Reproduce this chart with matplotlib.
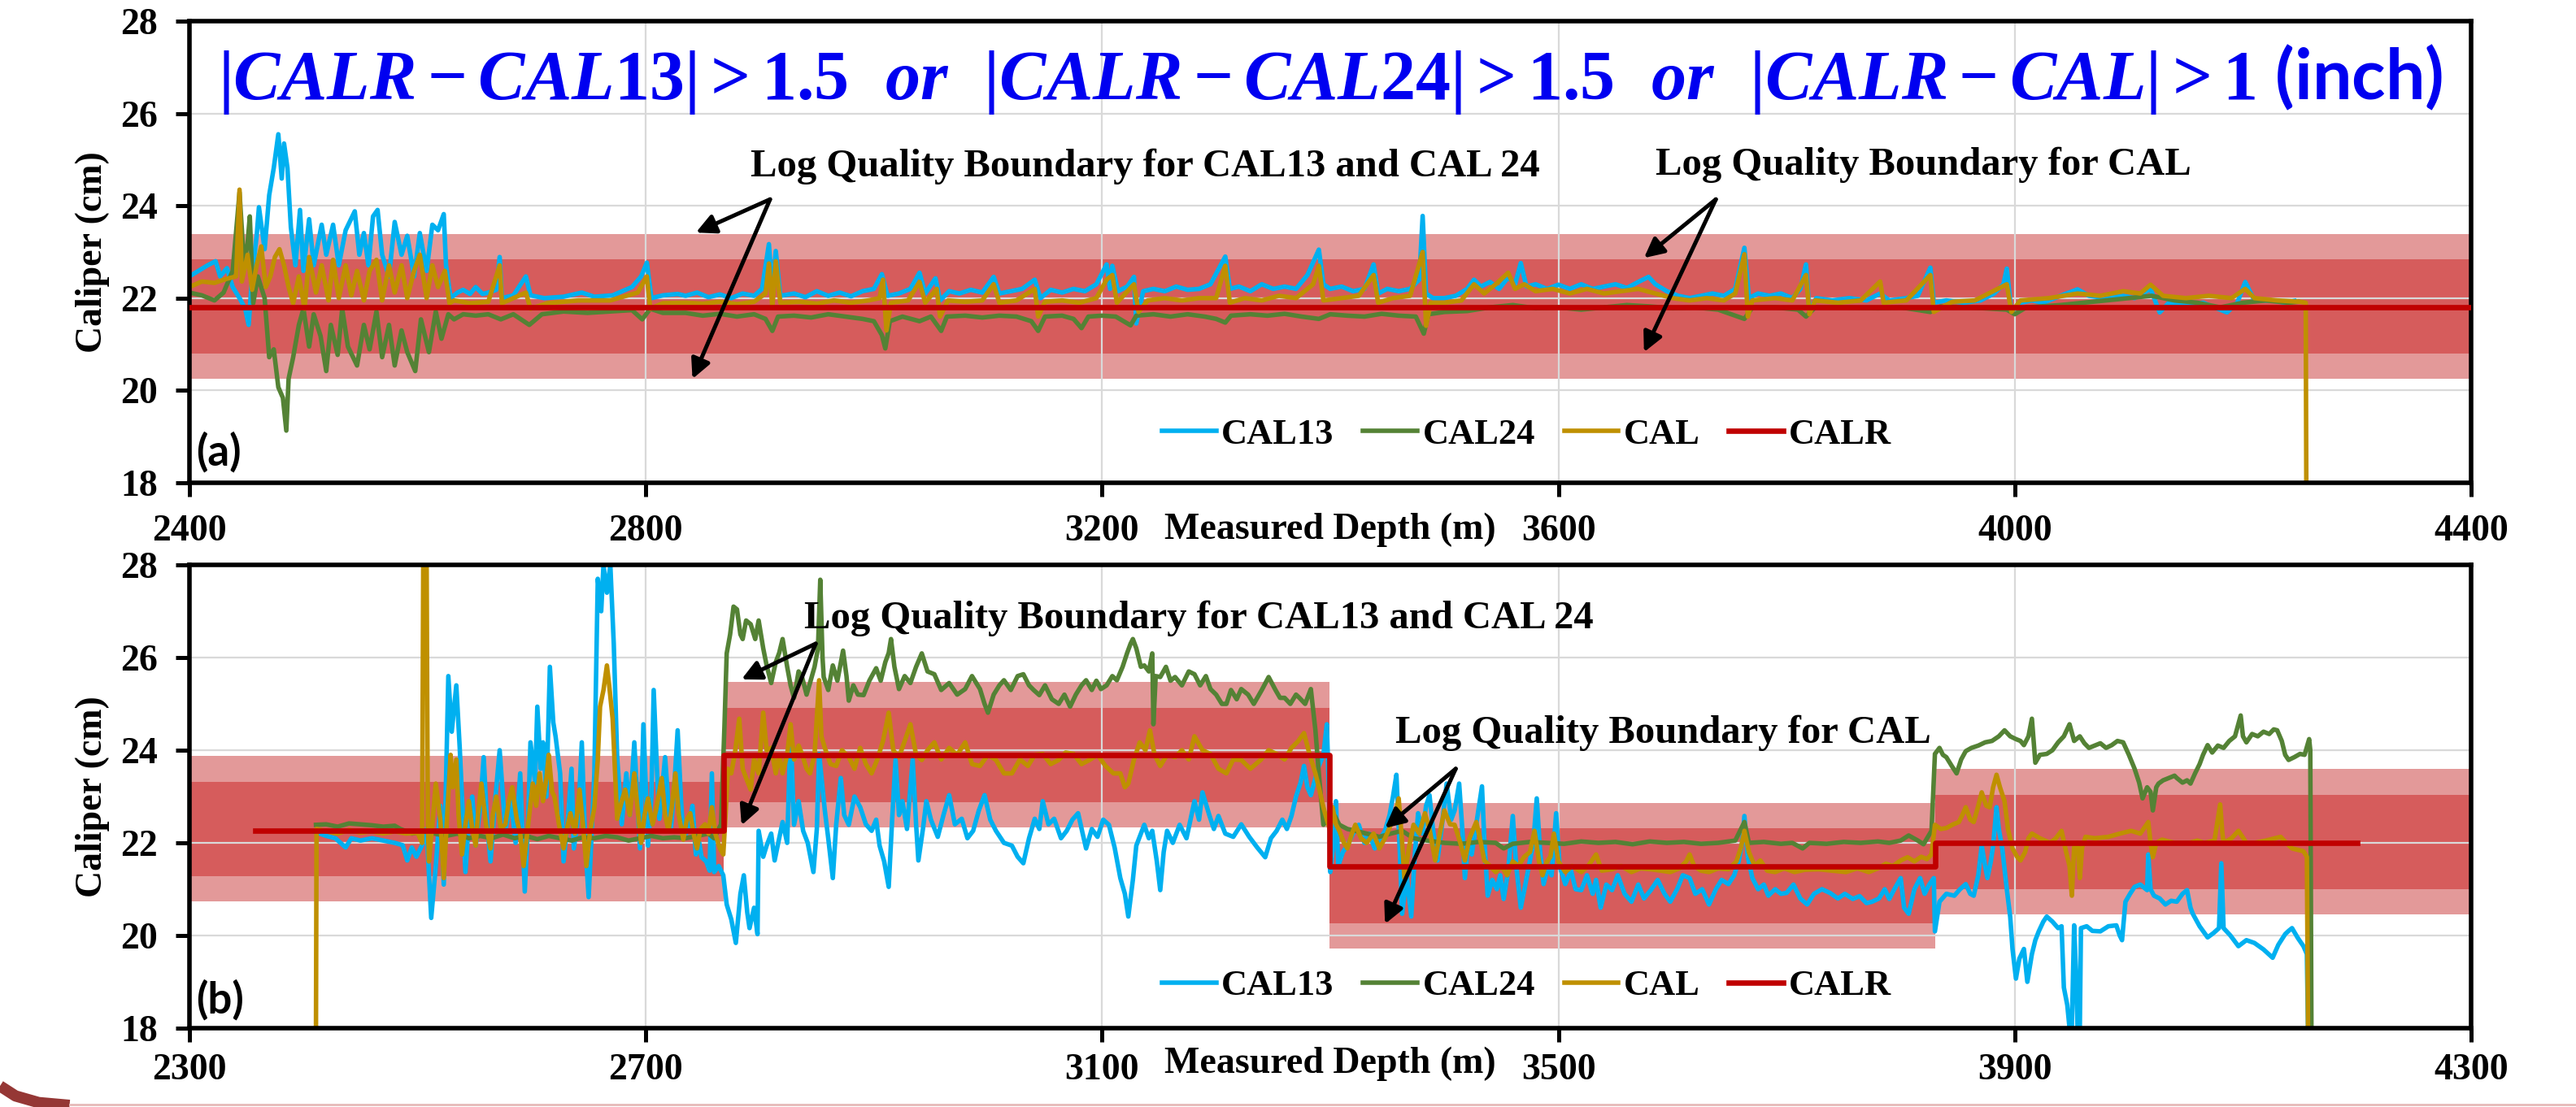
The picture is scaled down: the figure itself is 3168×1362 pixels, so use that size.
import matplotlib.pyplot as plt
import matplotlib.lines as mlines
import numpy as np

plt.rcParams['font.family'] = 'Liberation Serif'
plt.rcParams['font.weight'] = 'bold'
plt.rcParams['mathtext.fontset'] = 'custom'
plt.rcParams['mathtext.it'] = 'Liberation Serif:italic:bold'
plt.rcParams['mathtext.rm'] = 'Liberation Serif:bold'
plt.rcParams['mathtext.bf'] = 'Liberation Serif:bold'

# ---------------- panel (a) data: (depth m, caliper cm) ----------------
a_cal13 = [(2400, 22.47), (2408, 22.59), (2416, 22.71), (2423, 22.8), (2427, 22.47), (2433, 22.65), (2438, 22.24),
           (2444, 22.0), (2449, 21.77), (2452, 21.42), (2455, 22.47), (2459, 23.35), (2461, 23.97), (2466, 23.06),
           (2470, 24.23), (2474, 24.82), (2478, 25.55), (2481, 24.59), (2483, 25.35), (2486, 24.82), (2489, 23.53),
           (2493, 22.71), (2497, 23.91), (2500, 22.59), (2505, 23.71), (2509, 22.71), (2516, 23.59), (2520, 22.94),
           (2526, 23.59), (2531, 22.71), (2537, 23.47), (2545, 23.88), (2549, 22.94), (2553, 23.41), (2557, 22.71),
           (2561, 23.77), (2565, 23.91), (2569, 22.94), (2575, 22.47), (2580, 23.65), (2586, 22.94), (2591, 23.35),
           (2597, 22.47), (2602, 23.41), (2608, 22.59), (2613, 23.59), (2618, 23.47), (2623, 23.82), (2625, 22.71),
           (2629, 22.0), (2635, 22.12), (2640, 22.18), (2646, 22.09), (2651, 22.24), (2657, 22.09), (2662, 22.12),
           (2669, 22.18), (2672, 22.89), (2674, 22.0), (2684, 22.06), (2695, 22.47), (2699, 22.06), (2711, 22.0),
           (2728, 22.03), (2744, 22.12), (2755, 22.03), (2771, 22.06), (2788, 22.24), (2796, 22.47), (2801, 22.77),
           (2805, 22.0), (2815, 22.06), (2828, 22.09), (2835, 22.05), (2845, 22.12), (2855, 22.02), (2865, 22.08),
           (2875, 22.0), (2885, 22.1), (2895, 22.05), (2902, 22.2), (2908, 23.17), (2911, 22.1), (2914, 23.02),
           (2918, 22.05), (2930, 22.1), (2940, 22.02), (2950, 22.15), (2960, 22.05), (2970, 22.12), (2980, 22.04),
           (2990, 22.15), (3000, 22.2), (3007, 22.52), (3012, 22.05), (3022, 22.1), (3032, 22.2), (3040, 22.55),
           (3045, 22.1), (3054, 22.43), (3058, 21.95), (3066, 22.15), (3075, 22.1), (3085, 22.18), (3095, 22.12),
           (3105, 22.46), (3110, 22.1), (3120, 22.15), (3130, 22.2), (3141, 22.4), (3146, 22.0), (3155, 22.18),
           (3165, 22.12), (3175, 22.2), (3185, 22.15), (3195, 22.3), (3204, 22.73), (3207, 22.2), (3209, 22.7),
           (3214, 22.15), (3222, 22.25), (3228, 22.46), (3230, 21.45), (3236, 22.15), (3245, 22.2), (3255, 22.15),
           (3265, 22.25), (3275, 22.18), (3285, 22.2), (3295, 22.3), (3308, 22.9), (3312, 22.2), (3320, 22.25),
           (3330, 22.15), (3340, 22.3), (3350, 22.2), (3360, 22.25), (3370, 22.2), (3380, 22.5), (3390, 23.05),
           (3394, 22.3), (3400, 22.2), (3410, 22.25), (3420, 22.15), (3430, 22.2), (3438, 22.73), (3442, 22.1),
           (3450, 22.2), (3460, 22.15), (3470, 22.2), (3478, 22.4), (3481, 23.78), (3484, 22.1), (3490, 22.0),
           (3500, 22.0), (3510, 22.05), (3520, 22.2), (3526, 22.4), (3532, 22.25), (3540, 22.35), (3548, 22.2),
           (3556, 22.45), (3562, 22.3), (3567, 22.76), (3572, 22.25), (3580, 22.3), (3590, 22.2), (3600, 22.29),
           (3610, 22.2), (3620, 22.3), (3630, 22.2), (3640, 22.25), (3650, 22.3), (3660, 22.22), (3670, 22.35),
           (3679, 22.46), (3685, 22.3), (3695, 22.15), (3705, 22.05), (3715, 22.0), (3725, 22.05), (3735, 22.1),
           (3745, 22.05), (3755, 22.2), (3763, 23.09), (3767, 22.0), (3775, 22.1), (3785, 22.05), (3795, 22.1),
           (3805, 22.0), (3812, 22.2), (3817, 22.73), (3820, 21.7), (3826, 22.0), (3840, 21.95), (3855, 22.0),
           (3870, 21.95), (3882, 22.1), (3890, 21.95), (3905, 22.0), (3915, 22.05), (3926, 22.66), (3929, 21.9),
           (3940, 21.95), (3955, 21.9), (3970, 21.95), (3982, 22.1), (3990, 22.3), (3993, 22.64), (3997, 21.7),
           (4005, 21.9), (4015, 21.95), (4025, 21.9), (4040, 22.05), (4055, 22.19), (4065, 22.05), (4080, 22.0),
           (4095, 22.05), (4105, 22.0), (4119, 22.2), (4127, 21.69), (4135, 21.9), (4150, 21.85), (4165, 21.9),
           (4175, 21.8), (4186, 21.69), (4195, 21.9), (4202, 22.35), (4210, 21.95), (4225, 21.95), (4237, 21.9),
           (4245, 21.94)]

a_cal24 = [(2400, 22.12), (2411, 22.06), (2422, 21.95), (2430, 22.12), (2438, 22.59), (2444, 24.29), (2448, 22.71),
           (2451, 23.18), (2453, 23.77), (2456, 21.89), (2460, 22.47), (2466, 22.0), (2470, 20.72), (2474, 20.89),
           (2478, 20.07), (2482, 19.84), (2485, 19.13), (2487, 20.25), (2491, 20.72), (2496, 21.42), (2500, 21.77),
           (2505, 20.95), (2509, 21.65), (2515, 21.18), (2520, 20.42), (2524, 21.42), (2530, 20.77), (2534, 21.77),
           (2539, 20.95), (2547, 20.54), (2553, 21.42), (2558, 20.89), (2564, 21.71), (2569, 20.72), (2575, 21.42),
           (2580, 20.54), (2586, 21.3), (2591, 20.83), (2598, 20.42), (2603, 21.54), (2610, 20.83), (2616, 21.71),
           (2621, 21.12), (2627, 21.65), (2632, 21.54), (2640, 21.65), (2651, 21.62), (2662, 21.65), (2673, 21.54),
           (2684, 21.65), (2698, 21.42), (2709, 21.65), (2728, 21.71), (2749, 21.68), (2769, 21.71), (2788, 21.74),
           (2797, 21.54), (2804, 21.77), (2815, 21.68), (2835, 21.68), (2850, 21.62), (2865, 21.66), (2880, 21.6),
           (2895, 21.65), (2905, 21.55), (2911, 21.29), (2916, 21.6), (2930, 21.62), (2945, 21.58), (2960, 21.65),
           (2975, 21.6), (2990, 21.55), (3000, 21.5), (3007, 21.2), (3010, 20.91), (3014, 21.5), (3025, 21.6),
           (3040, 21.5), (3050, 21.6), (3059, 21.29), (3064, 21.6), (3080, 21.62), (3095, 21.58), (3110, 21.62),
           (3125, 21.6), (3138, 21.5), (3144, 21.29), (3150, 21.6), (3165, 21.62), (3175, 21.55), (3182, 21.35),
           (3188, 21.6), (3200, 21.62), (3212, 21.6), (3225, 21.41), (3230, 21.62), (3245, 21.65), (3260, 21.6),
           (3275, 21.65), (3290, 21.6), (3300, 21.55), (3308, 21.47), (3313, 21.62), (3330, 21.65), (3345, 21.62),
           (3360, 21.66), (3375, 21.6), (3390, 21.55), (3400, 21.65), (3415, 21.62), (3430, 21.6), (3445, 21.66),
           (3460, 21.62), (3475, 21.6), (3482, 21.23), (3486, 21.65), (3500, 21.7), (3520, 21.72), (3540, 21.8),
           (3560, 21.85), (3580, 21.78), (3600, 21.8), (3620, 21.75), (3640, 21.8), (3660, 21.85), (3680, 21.82),
           (3700, 21.78), (3720, 21.8), (3740, 21.75), (3763, 21.55), (3770, 21.8), (3790, 21.8), (3810, 21.75),
           (3817, 21.6), (3825, 21.8), (3850, 21.8), (3880, 21.78), (3900, 21.8), (3926, 21.7), (3935, 21.82),
           (3960, 21.8), (3993, 21.75), (4000, 21.65), (4010, 21.8), (4040, 21.85), (4060, 21.9), (4080, 21.95),
           (4100, 22.0), (4120, 22.05), (4140, 21.95), (4160, 21.9), (4180, 21.8), (4200, 21.9), (4220, 21.95),
           (4240, 21.9), (4248, 21.92)]

a_cal = [(2400, 22.24), (2411, 22.36), (2422, 22.33), (2433, 22.42), (2441, 22.47), (2444, 24.35), (2446, 22.36),
         (2451, 22.94), (2455, 22.18), (2459, 22.71), (2463, 23.12), (2467, 22.24), (2471, 22.47), (2475, 22.89),
         (2479, 23.06), (2483, 22.71), (2487, 22.24), (2491, 21.89), (2496, 22.47), (2501, 21.77), (2505, 22.89),
         (2511, 22.12), (2516, 22.71), (2522, 21.95), (2526, 22.83), (2531, 22.0), (2537, 22.71), (2542, 22.06),
         (2547, 22.59), (2553, 21.95), (2558, 22.59), (2564, 22.83), (2569, 21.95), (2575, 22.71), (2580, 22.12),
         (2586, 22.71), (2591, 22.0), (2597, 22.59), (2602, 22.94), (2608, 22.0), (2613, 22.71), (2618, 22.24),
         (2624, 22.59), (2628, 21.89), (2632, 21.95), (2646, 21.89), (2662, 21.92), (2672, 22.71), (2674, 21.89),
         (2695, 22.12), (2699, 21.77), (2714, 21.89), (2741, 21.95), (2769, 21.95), (2793, 22.12), (2801, 22.47),
         (2804, 21.77), (2815, 21.89), (2835, 21.9), (2850, 21.88), (2865, 21.92), (2880, 21.87), (2895, 21.92),
         (2905, 22.1), (2908, 22.75), (2911, 21.8), (2914, 22.8), (2918, 21.9), (2935, 21.92), (2950, 21.88),
         (2965, 21.95), (2980, 21.9), (2995, 21.95), (3005, 22.0), (3008, 22.4), (3011, 21.3), (3015, 21.9),
         (3030, 21.95), (3040, 22.35), (3045, 21.9), (3055, 22.2), (3058, 21.6), (3065, 21.95), (3080, 21.92),
         (3095, 21.95), (3105, 22.3), (3110, 21.9), (3125, 21.95), (3141, 22.2), (3144, 21.6), (3150, 21.92),
         (3165, 21.95), (3180, 21.9), (3195, 22.0), (3204, 22.4), (3209, 22.5), (3213, 21.9), (3228, 22.3),
         (3232, 21.7), (3240, 21.95), (3255, 22.0), (3270, 21.95), (3285, 22.0), (3300, 22.0), (3308, 22.7),
         (3312, 21.9), (3325, 22.0), (3340, 21.95), (3355, 22.05), (3370, 22.0), (3385, 22.3), (3390, 22.7),
         (3394, 21.95), (3410, 22.0), (3425, 22.05), (3438, 22.5), (3442, 21.9), (3455, 22.0), (3470, 22.05),
         (3481, 23.0), (3484, 21.4), (3488, 21.9), (3500, 21.9), (3515, 21.95), (3526, 22.3), (3535, 22.1),
         (3545, 22.3), (3556, 22.55), (3562, 22.2), (3570, 22.3), (3580, 22.15), (3595, 22.2), (3610, 22.1),
         (3625, 22.2), (3640, 22.1), (3655, 22.15), (3670, 22.2), (3685, 22.1), (3700, 22.0), (3715, 21.95),
         (3730, 22.0), (3745, 21.95), (3755, 22.1), (3763, 22.95), (3766, 21.6), (3770, 21.95), (3790, 22.0),
         (3805, 21.95), (3817, 22.5), (3820, 21.65), (3825, 21.95), (3845, 21.9), (3865, 21.95), (3882, 22.36),
         (3885, 21.9), (3905, 21.95), (3926, 22.5), (3929, 21.7), (3945, 21.92), (3965, 21.95), (3993, 22.3),
         (3997, 21.7), (4005, 21.95), (4030, 22.0), (4055, 22.1), (4075, 22.05), (4095, 22.15), (4110, 22.1),
         (4119, 22.29), (4130, 22.05), (4150, 22.0), (4170, 22.05), (4190, 22.0), (4202, 22.2), (4210, 22.0),
         (4230, 21.95), (4250, 21.92), (4255, 21.9), (4255.5, 18.0)]

a_calr_start = [2400]
a_calr_end = [4400]
a_calr = [21.8]
a_band_mid = [21.82]

# ---------------- panel (b) data ----------------
b_cal13 = [(2411, 22.23), (2420, 22.15), (2428, 22.1), (2437, 21.9), (2442, 22.1), (2450, 22.05), (2460, 22.1),
           (2470, 22.05), (2480, 22.0), (2487, 21.95), (2491, 21.62), (2495, 21.9), (2499, 21.7), (2504, 21.95),
           (2508, 22.3), (2512, 20.38), (2516, 21.5), (2520, 22.8), (2523, 21.1), (2527, 25.6), (2530, 24.4),
           (2534, 25.4), (2537, 24.05), (2542, 21.37), (2545, 22.5), (2548, 23.0), (2551, 21.94), (2555, 22.8),
           (2558, 23.85), (2561, 22.4), (2564, 21.6), (2568, 22.9), (2572, 24.0), (2577, 22.26), (2582, 22.9),
           (2586, 22.0), (2590, 23.5), (2594, 20.95), (2597, 22.5), (2599, 24.17), (2603, 23.3), (2605, 24.94),
           (2608, 23.6), (2610, 24.17), (2613, 23.0), (2616, 25.8), (2619, 24.6), (2621, 24.3), (2625, 23.5),
           (2628, 21.6), (2632, 22.58), (2635, 23.6), (2637, 21.88), (2641, 22.6), (2644, 24.17), (2647, 22.0),
           (2650, 20.83), (2653, 22.4), (2655, 23.5), (2658, 27.7), (2661, 27.0), (2663, 28.0), (2666, 27.4),
           (2669, 28.0), (2672, 26.3), (2675, 23.85), (2679, 22.4), (2683, 23.5), (2686, 22.6), (2690, 24.17),
           (2693, 22.8), (2695, 21.88), (2698, 24.56), (2702, 21.94), (2705, 23.0), (2707, 25.3), (2710, 23.5),
           (2712, 22.52), (2717, 23.85), (2720, 22.8), (2722, 22.26), (2725, 23.2), (2728, 24.43), (2731, 22.9),
           (2733, 22.13), (2737, 22.26), (2741, 22.8), (2744, 21.75), (2747, 22.0), (2749, 21.69), (2753, 21.6),
           (2756, 21.4), (2758, 23.5), (2760, 21.37), (2764, 21.5), (2768, 21.3), (2771, 20.67), (2775, 20.35),
           (2779, 19.84), (2783, 20.9), (2786, 21.3), (2789, 20.5), (2791, 20.16), (2795, 20.6), (2798, 20.03),
           (2799, 22.26), (2803, 21.7), (2806, 21.94), (2810, 22.2), (2813, 21.62), (2817, 22.1), (2820, 22.45),
           (2824, 22.0), (2827, 24.43), (2830, 22.39), (2834, 22.9), (2838, 22.26), (2842, 22.0), (2847, 21.37),
           (2850, 22.3), (2852, 23.92), (2857, 22.7), (2860, 22.1), (2864, 21.24), (2867, 22.4), (2871, 23.4),
           (2874, 22.6), (2878, 22.39), (2883, 23.0), (2888, 22.77), (2893, 22.4), (2898, 22.26), (2902, 22.5),
           (2905, 21.94), (2909, 21.6), (2913, 21.05), (2916, 22.5), (2919, 23.79), (2922, 22.6), (2925, 22.9),
           (2929, 22.3), (2934, 23.79), (2937, 22.4), (2939, 21.62), (2943, 22.3), (2946, 22.9), (2950, 22.5),
           (2956, 22.13), (2961, 22.6), (2966, 23.03), (2971, 22.4), (2977, 22.52), (2982, 22.1), (2987, 22.26),
           (2992, 22.7), (2997, 23.03), (3002, 22.5), (3007, 22.26), (3014, 22.0), (3021, 21.94), (3026, 21.7),
           (3031, 21.56), (3036, 22.1), (3041, 22.52), (3045, 22.3), (3048, 22.9), (3053, 22.4), (3058, 22.52),
           (3064, 22.1), (3069, 22.26), (3074, 22.5), (3079, 22.64), (3083, 22.2), (3086, 21.88), (3091, 22.3),
           (3096, 22.13), (3101, 22.5), (3106, 22.39), (3111, 21.9), (3116, 21.24), (3120, 20.9), (3123, 20.41),
           (3127, 21.2), (3130, 21.94), (3134, 22.2), (3137, 22.39), (3141, 22.1), (3144, 22.26), (3148, 21.6),
           (3151, 20.98), (3154, 21.8), (3157, 22.26), (3162, 22.0), (3168, 22.39), (3174, 22.1), (3181, 22.9),
           (3185, 22.5), (3188, 23.09), (3194, 22.6), (3198, 22.3), (3202, 22.58), (3208, 22.2), (3215, 22.13),
           (3222, 22.4), (3229, 22.13), (3236, 21.9), (3243, 21.69), (3248, 22.1), (3253, 22.26), (3258, 22.5),
           (3262, 22.3), (3266, 22.58), (3270, 23.0), (3274, 23.3), (3277, 23.66), (3280, 23.2), (3283, 23.03),
           (3287, 23.4), (3290, 23.66), (3294, 23.9), (3297, 24.56), (3299, 23.0), (3300, 21.37), (3303, 22.0),
           (3305, 22.9), (3307, 21.5), (3311, 21.8), (3315, 21.94), (3320, 22.2), (3325, 22.39), (3330, 22.0),
           (3334, 22.2), (3339, 21.88), (3344, 22.1), (3348, 22.26), (3352, 22.6), (3355, 23.0), (3358, 23.47),
           (3361, 21.8), (3363, 20.47), (3367, 21.3), (3371, 20.41), (3374, 21.7), (3377, 22.64), (3381, 22.2),
           (3384, 22.8), (3387, 23.03), (3390, 22.3), (3394, 21.62), (3398, 22.4), (3402, 23.28), (3406, 22.5),
           (3409, 22.7), (3413, 23.28), (3416, 22.2), (3418, 21.24), (3421, 22.0), (3424, 21.75), (3428, 22.4),
           (3433, 23.22), (3435, 22.1), (3438, 20.86), (3442, 21.2), (3446, 21.0), (3449, 21.3), (3452, 20.79),
           (3456, 21.4), (3460, 22.58), (3463, 21.5), (3467, 20.6), (3471, 21.1), (3475, 21.62), (3478, 22.0),
           (3481, 22.96), (3484, 21.8), (3487, 21.11), (3491, 21.5), (3494, 21.3), (3498, 22.64), (3501, 21.5),
           (3506, 21.11), (3511, 21.4), (3515, 21.0), (3520, 20.98), (3525, 21.3), (3530, 20.9), (3533, 21.2),
           (3537, 20.6), (3542, 21.1), (3547, 20.98), (3552, 21.3), (3558, 20.9), (3564, 20.73), (3570, 21.1),
           (3575, 20.8), (3581, 20.98), (3587, 21.2), (3593, 20.9), (3598, 20.73), (3604, 21.0), (3609, 21.3),
           (3615, 21.24), (3620, 20.9), (3626, 21.0), (3632, 20.67), (3638, 21.0), (3643, 21.2), (3649, 21.11),
           (3654, 21.3), (3658, 21.6), (3661, 22.0), (3663, 22.58), (3666, 21.7), (3670, 21.24), (3675, 21.0),
           (3680, 21.1), (3684, 20.86), (3690, 21.0), (3695, 20.9), (3700, 20.92), (3706, 21.1), (3712, 20.8),
           (3718, 20.67), (3724, 20.9), (3731, 21.0), (3738, 20.92), (3745, 20.8), (3751, 20.9), (3758, 20.79),
           (3764, 20.85), (3770, 20.7), (3775, 20.73), (3781, 20.8), (3786, 21.0), (3790, 20.79), (3794, 20.98),
           (3800, 21.24), (3803, 20.6), (3807, 20.47), (3812, 21.0), (3817, 21.24), (3821, 20.9), (3825, 21.1),
           (3829, 21.24), (3830, 20.09), (3834, 20.73), (3840, 20.9), (3847, 20.86), (3852, 21.0), (3857, 21.11),
           (3861, 20.9), (3864, 20.86), (3868, 21.3), (3871, 21.94), (3874, 21.5), (3876, 21.24), (3879, 21.6),
           (3881, 21.94), (3884, 22.77), (3886, 22.3), (3889, 21.88), (3893, 21.0), (3896, 20.4), (3898, 19.71),
           (3901, 19.07), (3904, 19.5), (3908, 19.71), (3911, 19.0), (3915, 19.6), (3918, 19.9), (3921, 20.09),
           (3925, 20.3), (3928, 20.41), (3933, 20.3), (3938, 20.16), (3941, 20.2), (3943, 18.88), (3946, 18.5),
           (3948, 18.0), (3950, 18.0), (3952, 20.22), (3954, 19.0), (3955, 18.0), (3957, 18.0), (3958, 20.16),
           (3963, 20.2), (3968, 20.1), (3975, 20.09), (3982, 20.2), (3989, 20.22), (3992, 20.0), (3994, 19.9),
           (3997, 20.73), (4001, 20.9), (4005, 21.05), (4010, 21.1), (4016, 20.98), (4017, 21.75), (4019, 21.0),
           (4022, 20.86), (4027, 20.8), (4032, 20.67), (4037, 20.75), (4042, 20.73), (4047, 20.9), (4051, 20.98),
           (4054, 20.6), (4056, 20.47), (4062, 20.2), (4069, 19.96), (4074, 20.05), (4079, 20.16), (4081, 21.56),
           (4083, 20.16), (4089, 20.0), (4096, 19.77), (4103, 19.9), (4110, 19.84), (4118, 19.7), (4126, 19.52),
           (4131, 19.8), (4137, 20.03), (4140, 20.1), (4143, 20.16), (4148, 19.95), (4153, 19.77), (4156, 19.6),
           (4157, 18.0)]

b_cal24 = [(2411, 22.39), (2420, 22.4), (2430, 22.35), (2440, 22.42), (2450, 22.4), (2460, 22.38), (2470, 22.35),
           (2480, 22.37), (2485, 22.3), (2495, 22.2), (2505, 22.25), (2515, 22.2), (2525, 22.15), (2535, 22.2),
           (2545, 22.1), (2555, 22.15), (2565, 22.1), (2575, 22.18), (2585, 22.1), (2595, 22.15), (2605, 22.08),
           (2615, 22.15), (2625, 22.1), (2635, 22.05), (2645, 22.12), (2655, 22.1), (2665, 22.15), (2675, 22.12),
           (2685, 22.05), (2695, 22.1), (2705, 22.15), (2715, 22.1), (2725, 22.12), (2735, 22.1), (2745, 22.15),
           (2755, 22.2), (2760, 22.1), (2766, 22.4), (2769, 24.5), (2771, 26.09), (2774, 26.5), (2777, 27.1),
           (2780, 27.04), (2783, 26.5), (2785, 26.4), (2788, 26.8), (2792, 26.72), (2796, 26.4), (2799, 26.8),
           (2803, 26.2), (2806, 25.83), (2810, 25.45), (2814, 25.9), (2817, 26.1), (2820, 26.4), (2824, 25.8),
           (2827, 25.4), (2830, 25.13), (2834, 25.7), (2837, 25.58), (2841, 25.2), (2844, 25.45), (2848, 25.8),
           (2851, 26.2), (2853, 27.68), (2855, 26.0), (2856, 25.58), (2860, 25.3), (2864, 25.83), (2868, 25.5),
           (2873, 26.15), (2876, 25.6), (2878, 25.07), (2882, 25.4), (2886, 25.2), (2891, 25.19), (2896, 25.5),
           (2902, 25.77), (2906, 25.5), (2910, 25.9), (2913, 26.1), (2915, 26.4), (2918, 25.8), (2922, 25.32),
           (2927, 25.6), (2932, 25.45), (2937, 25.8), (2942, 26.09), (2947, 25.7), (2953, 25.64), (2959, 25.3),
           (2966, 25.45), (2973, 25.2), (2980, 25.32), (2986, 25.6), (2993, 25.32), (2997, 25.0), (3000, 24.81),
           (3005, 25.2), (3010, 25.4), (3014, 25.51), (3020, 25.3), (3026, 25.6), (3031, 25.64), (3036, 25.4),
           (3040, 25.3), (3045, 25.19), (3050, 25.4), (3056, 25.1), (3062, 25.0), (3067, 25.2), (3072, 24.94),
           (3077, 25.2), (3082, 25.4), (3086, 25.51), (3091, 25.3), (3095, 25.5), (3099, 25.32), (3104, 25.4),
           (3109, 25.6), (3113, 25.51), (3118, 25.8), (3122, 26.1), (3125, 26.3), (3127, 26.4), (3130, 26.2),
           (3134, 25.8), (3137, 25.83), (3141, 25.7), (3144, 26.09), (3145, 24.56), (3147, 25.6), (3151, 25.58),
           (3156, 25.8), (3160, 25.5), (3164, 25.58), (3170, 25.4), (3176, 25.7), (3181, 25.64), (3186, 25.4),
           (3191, 25.6), (3195, 25.32), (3200, 25.2), (3205, 25.0), (3209, 25.0), (3213, 25.3), (3218, 25.1),
           (3222, 25.32), (3228, 25.2), (3233, 25.0), (3240, 25.3), (3246, 25.58), (3252, 25.3), (3256, 25.13),
           (3260, 25.13), (3265, 25.0), (3270, 25.2), (3273, 25.13), (3278, 25.0), (3283, 25.32), (3287, 24.43),
           (3290, 23.5), (3294, 22.39), (3297, 22.5), (3300, 22.64), (3304, 22.58), (3308, 22.39), (3315, 22.3),
           (3322, 22.26), (3332, 22.2), (3343, 22.13), (3353, 22.2), (3363, 22.26), (3373, 22.1), (3385, 22.05),
           (3400, 22.0), (3415, 21.98), (3430, 22.02), (3445, 22.0), (3452, 21.88), (3460, 21.98), (3475, 22.02),
           (3490, 22.0), (3505, 21.98), (3520, 22.03), (3535, 22.0), (3550, 22.02), (3565, 21.97), (3580, 22.03),
           (3595, 22.0), (3610, 22.02), (3625, 21.98), (3640, 22.0), (3655, 22.05), (3663, 22.45), (3667, 22.0),
           (3680, 22.02), (3695, 21.98), (3705, 22.0), (3714, 21.88), (3720, 22.0), (3735, 21.98), (3750, 22.02),
           (3765, 22.0), (3780, 22.03), (3790, 22.0), (3800, 22.05), (3807, 22.16), (3815, 22.05), (3820, 21.97),
           (3827, 22.26), (3830, 23.92), (3834, 24.05), (3837, 23.9), (3840, 23.85), (3845, 23.65), (3849, 23.5),
           (3853, 23.8), (3857, 23.98), (3862, 24.05), (3868, 24.1), (3874, 24.17), (3880, 24.2), (3886, 24.3),
           (3891, 24.43), (3896, 24.3), (3901, 24.24), (3905, 24.2), (3908, 24.11), (3912, 24.3), (3915, 24.68),
           (3918, 23.73), (3922, 23.9), (3928, 23.92), (3933, 24.0), (3938, 24.17), (3943, 24.3), (3948, 24.56),
           (3952, 24.2), (3957, 24.3), (3961, 24.15), (3965, 24.05), (3970, 24.1), (3975, 24.15), (3980, 24.05),
           (3985, 24.11), (3990, 24.2), (3995, 24.17), (4000, 23.9), (4005, 23.6), (4009, 23.3), (4012, 22.96),
           (4016, 23.2), (4019, 23.1), (4021, 22.7), (4024, 23.2), (4026, 23.28), (4030, 23.35), (4035, 23.4),
           (4040, 23.45), (4042, 23.4), (4047, 23.3), (4051, 23.35), (4054, 23.28), (4058, 23.5), (4062, 23.7),
           (4065, 23.9), (4069, 24.11), (4073, 23.95), (4078, 24.1), (4083, 24.05), (4088, 24.2), (4093, 24.3),
           (4098, 24.75), (4100, 24.3), (4103, 24.17), (4108, 24.35), (4113, 24.3), (4118, 24.4), (4123, 24.35),
           (4127, 24.45), (4130, 24.43), (4134, 24.2), (4137, 23.9), (4140, 23.79), (4145, 23.85), (4150, 23.92),
           (4154, 23.9), (4158, 24.24), (4159, 24.0), (4160, 18.0)]

b_cal = [(2411, 18.0), (2411.5, 22.3), (2420, 22.25), (2430, 22.2), (2440, 22.28), (2450, 22.22), (2460, 22.25),
         (2470, 22.2), (2480, 22.25), (2490, 22.2), (2500, 22.22), (2504, 22.0), (2505, 28.0), (2508, 28.0),
         (2509, 22.5), (2510, 21.6), (2513, 22.4), (2516, 23.28), (2520, 22.5), (2523, 21.24), (2526, 22.6),
         (2529, 23.9), (2531, 23.2), (2534, 23.8), (2536, 22.6), (2539, 21.75), (2542, 22.4), (2545, 22.9),
         (2548, 22.3), (2551, 21.94), (2553, 22.6), (2556, 23.28), (2560, 22.4), (2564, 21.88), (2566, 22.6),
         (2569, 23.0), (2573, 22.3), (2577, 22.4), (2580, 22.9), (2583, 23.2), (2587, 22.5), (2590, 22.2),
         (2593, 21.5), (2597, 22.4), (2601, 23.28), (2604, 22.8), (2607, 23.5), (2610, 22.9), (2613, 23.4),
         (2615, 23.9), (2618, 23.1), (2620, 23.0), (2624, 22.4), (2628, 21.88), (2631, 22.3), (2634, 22.64),
         (2638, 22.2), (2642, 23.15), (2645, 22.4), (2648, 21.5), (2651, 22.2), (2655, 22.77), (2658, 23.8),
         (2660, 24.94), (2663, 25.3), (2666, 25.83), (2668, 25.4), (2671, 24.68), (2673, 23.6), (2675, 22.52),
         (2679, 22.9), (2682, 23.15), (2686, 22.6), (2690, 23.5), (2693, 22.7), (2696, 22.0), (2699, 22.6),
         (2702, 22.96), (2706, 22.4), (2709, 22.7), (2714, 23.4), (2717, 22.6), (2720, 22.26), (2723, 22.8),
         (2726, 23.5), (2729, 22.6), (2733, 22.07), (2736, 22.5), (2739, 22.64), (2742, 22.2), (2745, 21.88),
         (2748, 22.3), (2752, 22.4), (2755, 22.2), (2758, 22.77), (2761, 22.2), (2765, 21.88), (2768, 21.75),
         (2770, 22.6), (2772, 23.6), (2775, 23.5), (2778, 23.9), (2782, 24.68), (2785, 23.6), (2788, 23.4),
         (2792, 23.15), (2795, 23.8), (2799, 23.5), (2803, 24.81), (2806, 24.0), (2810, 24.05), (2814, 23.5),
         (2817, 23.9), (2820, 23.5), (2824, 23.9), (2827, 24.56), (2830, 23.8), (2834, 24.1), (2837, 23.92),
         (2841, 23.6), (2844, 23.5), (2848, 23.9), (2852, 25.51), (2854, 24.3), (2857, 24.05), (2862, 23.7),
         (2867, 23.66), (2872, 24.0), (2878, 23.85), (2883, 23.6), (2888, 24.05), (2893, 23.7), (2898, 23.5),
         (2903, 23.8), (2908, 24.2), (2913, 24.81), (2917, 24.0), (2922, 23.85), (2927, 24.2), (2932, 24.56),
         (2937, 23.9), (2942, 23.79), (2947, 24.0), (2953, 24.17), (2959, 23.8), (2966, 24.05), (2973, 23.9),
         (2980, 24.17), (2986, 23.7), (2993, 23.66), (3000, 23.9), (3007, 23.79), (3014, 23.5), (3021, 23.5),
         (3028, 23.8), (3035, 23.66), (3041, 23.9), (3048, 23.92), (3055, 23.7), (3062, 23.79), (3068, 23.95),
         (3075, 23.92), (3082, 23.7), (3089, 23.79), (3096, 23.9), (3103, 23.66), (3110, 23.5), (3116, 23.5),
         (3120, 23.2), (3123, 23.28), (3128, 23.8), (3133, 24.17), (3138, 24.0), (3142, 24.43), (3146, 23.9),
         (3151, 23.66), (3157, 23.9), (3164, 23.85), (3170, 24.0), (3176, 23.8), (3181, 24.3), (3188, 24.0),
         (3195, 23.92), (3202, 23.6), (3209, 23.5), (3215, 23.8), (3222, 23.79), (3230, 23.6), (3239, 23.79),
         (3246, 24.0), (3253, 23.92), (3260, 23.8), (3266, 24.05), (3272, 24.2), (3277, 24.37), (3282, 23.9),
         (3287, 23.5), (3290, 23.2), (3294, 22.77), (3297, 22.5), (3300, 22.26), (3302, 22.77), (3305, 22.4),
         (3308, 22.26), (3312, 22.0), (3315, 21.88), (3319, 22.2), (3322, 22.39), (3327, 22.1), (3332, 22.0),
         (3338, 22.2), (3343, 21.88), (3348, 22.1), (3353, 22.39), (3357, 22.6), (3360, 22.96), (3363, 22.0),
         (3365, 21.24), (3369, 21.9), (3373, 22.39), (3378, 22.2), (3383, 22.64), (3387, 22.3), (3392, 21.62),
         (3396, 22.2), (3400, 22.7), (3405, 22.4), (3409, 22.39), (3414, 22.0), (3418, 21.62), (3422, 22.1),
         (3428, 22.45), (3432, 22.0), (3435, 21.62), (3440, 21.5), (3445, 21.37), (3450, 21.5), (3455, 21.3),
         (3460, 21.6), (3465, 21.5), (3470, 21.7), (3475, 21.8), (3479, 22.26), (3483, 21.6), (3486, 21.3),
         (3490, 21.6), (3493, 21.7), (3496, 22.2), (3500, 21.6), (3506, 21.37), (3512, 21.5), (3520, 21.37),
         (3526, 21.5), (3533, 21.75), (3538, 21.4), (3547, 21.43), (3555, 21.5), (3564, 21.37), (3572, 21.45),
         (3581, 21.43), (3590, 21.4), (3598, 21.37), (3606, 21.45), (3612, 21.6), (3615, 21.75), (3619, 21.5),
         (3625, 21.4), (3632, 21.37), (3640, 21.45), (3649, 21.43), (3656, 21.6), (3660, 21.9), (3663, 22.26),
         (3667, 21.8), (3672, 21.5), (3677, 21.62), (3683, 21.4), (3690, 21.37), (3698, 21.45), (3707, 21.37),
         (3716, 21.42), (3728, 21.43), (3740, 21.4), (3752, 21.37), (3762, 21.45), (3772, 21.37), (3780, 21.45),
         (3787, 21.55), (3793, 21.5), (3800, 21.62), (3806, 21.69), (3812, 21.6), (3818, 21.7), (3823, 21.65),
         (3827, 21.75), (3830, 22.39), (3835, 22.3), (3840, 22.32), (3846, 22.4), (3851, 22.45), (3854, 22.6),
         (3857, 22.77), (3861, 22.5), (3864, 22.45), (3868, 22.8), (3871, 23.09), (3875, 22.8), (3878, 22.77),
         (3881, 23.2), (3884, 23.47), (3887, 23.2), (3891, 22.9), (3894, 22.3), (3898, 21.88), (3902, 21.7),
         (3905, 21.62), (3909, 21.8), (3912, 22.1), (3915, 22.2), (3922, 22.1), (3931, 22.0), (3936, 22.1),
         (3941, 22.26), (3945, 21.8), (3948, 21.5), (3950, 20.86), (3952, 21.9), (3955, 22.0), (3957, 21.24),
         (3959, 21.9), (3962, 22.13), (3970, 22.1), (3982, 22.13), (3992, 22.2), (4002, 22.26), (4010, 22.2),
         (4017, 22.45), (4019, 22.0), (4021, 21.69), (4024, 22.0), (4029, 22.07), (4040, 22.0), (4053, 22.0),
         (4060, 22.05), (4066, 22.0), (4075, 22.05), (4080, 22.83), (4082, 22.2), (4083, 22.0), (4090, 22.1),
         (4096, 22.26), (4103, 22.0), (4110, 22.0), (4120, 22.05), (4133, 22.13), (4138, 22.0), (4143, 21.88),
         (4148, 21.85), (4153, 21.82), (4156, 21.7), (4157, 18.0)]

b_calr_start = [2358, 2768, 3299, 3830]
b_calr_end = [2768, 3299, 3830, 4200]
b_calr = [22.27, 23.9, 21.5, 22.0]
b_band_start = [2300, 2768, 3299, 3830]
b_band_end = [2768, 3299, 3830, 4300]
b_band_mid = [22.3, 23.9, 21.29, 22.02]

dark_half = 1.02   # CAL boundary
light_half = 1.57  # CAL13 / CAL24 boundary

series_names = ['CAL13', 'CAL24', 'CAL', 'CALR']
colors = {'CAL13': '#00b0f0', 'CAL24': '#548235', 'CAL': '#bf9000', 'CALR': '#c00000'}


def calr_path(starts, ends, vals):
    xs, ys = [], []
    for s, e, v in zip(starts, ends, vals):
        xs += [s, e]
        ys += [v, v]
    return xs, ys


def draw_panel(ax, series, calr, bands, xlim, xticks, legend_y, tick_pad, label_y, tag, tag_y):
    bs, be, bm = bands
    for s, e, m in zip(bs, be, bm):
        ax.fill_between([s, e], m - light_half, m + light_half, color='#e39999', lw=0, zorder=0.1)
        ax.fill_between([s, e], m - dark_half, m + dark_half, color='#d65c5c', lw=0, zorder=0.2)
    handles = []
    for name, pts in zip(series_names[:3], series):
        d, v = zip(*pts)
        h, = ax.plot(d, v, color=colors[name], lw=2.0, label=name, zorder=2)
        handles.append(h)
    cx, cy = calr_path(*calr)
    h, = ax.plot(cx, cy, color=colors['CALR'], lw=2.4, label='CALR', zorder=3)
    handles.append(h)

    ax.set_xlim(*xlim)
    ax.set_ylim(18, 28)
    ax.set_xticks(xticks)
    ax.set_yticks([18, 20, 22, 24, 26, 28])
    ax.set_axisbelow(True)
    ax.grid(True, color='#d9d9d9', lw=0.8)
    for sp in ax.spines.values():
        sp.set_linewidth(2.0)
    ax.tick_params(axis='both', direction='out', length=6, width=1.8, labelsize=16.5)
    ax.tick_params(axis='x', pad=tick_pad)
    ax.tick_params(axis='y', pad=8)
    ax.set_ylabel('Caliper (cm)', fontsize=16.5, fontweight='bold')
    ax.yaxis.set_label_coords(-0.035, 0.5)
    ax.text(sum(xlim) / 2, label_y, 'Measured Depth (m)', transform=ax.get_xaxis_transform(),
            ha='center', va='center', fontsize=16.5, fontweight='bold')
    ax.legend(handles=handles, ncol=4, loc='center', bbox_to_anchor=(0.586, legend_y), frameon=False,
              fontsize=16, handlelength=1.5, handletextpad=0.15, columnspacing=0.8)
    ax.text(0.003, tag_y, tag, transform=ax.transAxes, ha='left', va='center',
            fontsize=19, fontweight='bold', family='Lato')


def boundary_note(ax, text, text_xy, origin, tips, fs=17.5):
    ax.text(text_xy[0], text_xy[1], text, ha='center', va='center', fontsize=fs, fontweight='bold', zorder=5)
    for tip in tips:
        ax.annotate('', xy=tip, xytext=origin,
                    arrowprops=dict(arrowstyle='-|>', color='black', lw=1.8, mutation_scale=18,
                                    shrinkA=0, shrinkB=0), zorder=5)


fig = plt.figure(figsize=(15.84, 6.81), dpi=200)
ax1 = fig.add_axes([0.0735, 0.5639, 0.8858, 0.4170])
ax2 = fig.add_axes([0.0735, 0.0712, 0.8858, 0.4185])

draw_panel(ax1, [a_cal13, a_cal24, a_cal], (a_calr_start, a_calr_end, a_calr),
           ([2400], [4400], a_band_mid), (2400, 4400), [2400, 2800, 3200, 3600, 4000, 4400],
           0.104, 8, -0.102, '(a)', 0.067)
draw_panel(ax2, [b_cal13, b_cal24, b_cal], (b_calr_start, b_calr_end, b_calr),
           (b_band_start, b_band_end, b_band_mid), (2300, 4300), [2300, 2700, 3100, 3500, 3900, 4300],
           0.091, 5, -0.077, '(b)', 0.061)

title = (r'$|CALR - CAL13| > 1.5\ \ or\ \ |CALR - CAL24| > 1.5\ \ or\ \ |CALR - CAL| > 1$' + ' (inch)')
ax1.text(0.5, 0.875, title, transform=ax1.transAxes, ha='center', va='center', fontsize=31,
         color='#0000f0', family='Lato', fontweight='bold')

boundary_note(ax1, 'Log Quality Boundary for CAL13 and CAL 24', (3238, 24.85), (2909, 24.14),
              [(2844, 23.42), (2841, 20.25)])
boundary_note(ax1, 'Log Quality Boundary for CAL', (3920, 24.88), (3738, 24.14),
              [(3675, 22.87), (3675, 20.83)])
boundary_note(ax2, 'Log Quality Boundary for CAL13 and CAL 24', (3185, 26.84), (2849, 26.3),
              [(2784, 25.53), (2784, 22.38)])
boundary_note(ax2, 'Log Quality Boundary for CAL', (3592, 24.37), (3410, 23.6),
              [(3348, 22.32), (3348, 20.25)])

# slide frame remnants at the bottom edge
fig.add_artist(mlines.Line2D([0.0, 0.006, 0.015, 0.027], [0.019, 0.010, 0.004, 0.0015],
                             transform=fig.transFigure, color='#953735', lw=5, solid_capstyle='butt'))
fig.add_artist(mlines.Line2D([0.027, 1.0], [0.002, 0.002], transform=fig.transFigure,
                             color='#e6b9b8', lw=1))

fig.savefig('out.png', dpi=200)
